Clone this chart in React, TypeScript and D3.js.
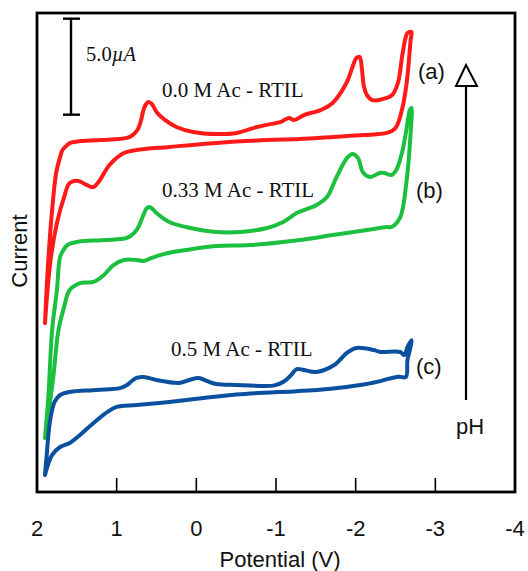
import React from "react";
import * as d3 from "d3";

// Potential (V) vs current (µA) — cyclic voltammograms
const curveA: [number, number][] = [
  [1.9, 8.75], [1.88, 10.47], [1.85, 12.55], [1.81, 14.64], [1.76, 16.56], [1.71, 17.4], [1.68, 17.76],
  [1.62, 18.02], [1.58, 18.13], [1.45, 18.23], [1.2, 18.28], [0.87, 18.39], [0.8, 18.54], [0.74, 18.8],
  [0.7, 19.22], [0.65, 20.0], [0.6, 20.26], [0.56, 20.16], [0.49, 19.69], [0.39, 19.32], [0.25, 18.96],
  [0.04, 18.7], [-0.25, 18.59], [-0.51, 18.65], [-0.76, 18.96], [-0.93, 19.11], [-1.06, 19.22],
  [-1.16, 19.43], [-1.23, 19.32], [-1.35, 19.58], [-1.56, 19.84], [-1.71, 20.21], [-1.89, 21.3],
  [-1.96, 22.08], [-2.01, 22.55], [-2.05, 22.6], [-2.08, 21.93], [-2.1, 21.15], [-2.14, 20.63],
  [-2.21, 20.36], [-2.39, 20.47], [-2.46, 20.63], [-2.53, 21.25], [-2.59, 22.81], [-2.65, 23.85],
  [-2.7, 23.91], [-2.69, 23.49], [-2.64, 21.25], [-2.58, 19.84], [-2.5, 18.91], [-2.39, 18.65],
  [-2.1, 18.54], [-1.71, 18.44], [-1.3, 18.33], [-0.89, 18.28], [-0.25, 18.13], [0.34, 17.92],
  [0.75, 17.76], [0.91, 17.6], [1.09, 16.98], [1.21, 16.2], [1.29, 15.83], [1.38, 15.94], [1.48, 16.15],
  [1.59, 16.04], [1.66, 15.31], [1.75, 13.96], [1.83, 12.03], [1.9, 8.75],
];

const curveB: [number, number][] = [
  [1.9, 2.76], [1.86, 4.74], [1.81, 8.39], [1.75, 10.47], [1.71, 12.19], [1.66, 12.6], [1.62, 12.81],
  [1.5, 12.97], [1.16, 13.07], [0.87, 13.18], [0.78, 13.44], [0.72, 13.8], [0.69, 14.11], [0.62, 14.74],
  [0.59, 14.79], [0.55, 14.69], [0.5, 14.48], [0.34, 14.01], [0.13, 13.75], [-0.25, 13.49],
  [-0.55, 13.49], [-0.89, 13.7], [-1.09, 14.01], [-1.26, 14.48], [-1.51, 14.9], [-1.64, 15.31],
  [-1.76, 16.35], [-1.89, 17.34], [-1.96, 17.55], [-2.03, 17.34], [-2.09, 16.61], [-2.18, 16.35],
  [-2.3, 16.56], [-2.36, 16.56], [-2.45, 16.46], [-2.51, 16.72], [-2.58, 17.6], [-2.63, 18.65],
  [-2.68, 19.84], [-2.7, 19.95], [-2.69, 18.65], [-2.63, 15.83], [-2.56, 14.27], [-2.45, 13.75],
  [-2.39, 13.75], [-2.14, 13.59], [-1.71, 13.33], [-1.3, 13.07], [-0.68, 12.81], [-0.25, 12.76],
  [0.13, 12.55], [0.41, 12.34], [0.56, 12.14], [0.66, 11.98], [0.75, 12.03], [0.91, 12.03],
  [1.04, 11.77], [1.16, 11.25], [1.29, 10.89], [1.46, 10.83], [1.59, 10.47], [1.66, 9.58],
  [1.73, 8.39], [1.8, 5.78], [1.9, 2.76],
];

const curveC: [number, number][] = [
  [1.9, 0.83], [1.88, 1.77], [1.84, 3.54], [1.78, 4.64], [1.71, 5.0], [1.59, 5.16], [1.25, 5.26],
  [0.96, 5.36], [0.87, 5.52], [0.81, 5.73], [0.75, 5.89], [0.66, 5.94], [0.5, 5.78], [0.21, 5.63],
  [0.09, 5.78], [-0.03, 5.89], [-0.13, 5.73], [-0.25, 5.57], [-0.5, 5.52], [-0.85, 5.47],
  [-0.98, 5.5], [-1.1, 5.7], [-1.19, 6.04], [-1.26, 6.35], [-1.35, 6.3], [-1.51, 6.2], [-1.73, 6.56],
  [-1.89, 7.19], [-2.01, 7.45], [-2.23, 7.34], [-2.31, 7.24], [-2.56, 7.24], [-2.61, 7.08],
  [-2.65, 7.5], [-2.7, 7.86], [-2.68, 7.34], [-2.65, 6.82], [-2.63, 5.94], [-2.54, 5.95],
  [-2.39, 5.82], [-2.31, 5.72], [-2.1, 5.55], [-1.69, 5.33], [-1.26, 5.2], [-0.85, 5.12], [-0.5, 5.02],
  [-0.09, 4.84], [0.34, 4.64], [0.75, 4.48], [1.0, 4.38], [1.12, 4.11], [1.29, 3.54], [1.46, 2.92],
  [1.59, 2.5], [1.71, 2.29], [1.81, 1.88], [1.9, 0.83],
];

const xTicks = [2, 1, 0, -1, -2, -3, -4];
const curveLabels = ["0.0 M Ac - RTIL", "0.33 M Ac - RTIL", "0.5 M Ac - RTIL"];
const curveTags = ["(a)", "(b)", "(c)"];
const scaleBarValue = 5.0;

const W = 528;
const H = 571;
const left = 37, right = 515, top = 13, bottom = 492;

export default function App() {
  const x = d3.scaleLinear().domain([2, -4]).range([left, right]);
  const y = d3.scaleLinear().domain([0, 25]).range([491, 11]);
  const line = d3
    .line<[number, number]>()
    .x((d) => x(d[0]))
    .y((d) => y(d[1]))
    .curve(d3.curveCatmullRom.alpha(0.5));

  const curves = [
    { data: curveA, color: "#ff1a1a" },
    { data: curveB, color: "#1dbf3f" },
    { data: curveC, color: "#0b4f9f" },
  ];

  const serif = "'Liberation Serif', 'Times New Roman', serif";
  const sans = "'Liberation Sans', Arial, sans-serif";

  const barTop = y(24.6);
  const barBot = y(24.6 - scaleBarValue);

  return (
    <svg
      width={W}
      height={H}
      style={{ position: "absolute", left: 0, top: 0, background: "#fff" }}
    >
      <rect x={0} y={0} width={W} height={H} fill="#fff" />
      {curves.map((c, i) => (
        <path
          key={i}
          d={line(c.data) || ""}
          fill="none"
          stroke={c.color}
          strokeWidth={4}
          strokeLinejoin="round"
          strokeLinecap="round"
        />
      ))}
      {/* frame */}
      <rect
        x={left}
        y={top}
        width={right - left}
        height={bottom - top}
        fill="none"
        stroke="#000"
        strokeWidth={2.8}
      />
      {/* ticks */}
      {xTicks.slice(1, -1).map((t) => (
        <line key={t} x1={x(t)} x2={x(t)} y1={bottom} y2={bottom - 14} stroke="#000" strokeWidth={1.6} />
      ))}
      {xTicks.map((t) => (
        <text
          key={"l" + t}
          x={x(t)}
          y={536}
          textAnchor="middle"
          fontFamily={sans}
          fontSize={22}
          fill="#111"
        >
          {String(t)}
        </text>
      ))}
      <text x={(left + right) / 2 + 4} y={567} textAnchor="middle" fontFamily={sans} fontSize={22} fill="#111">
        Potential (V)
      </text>
      <text
        transform={`translate(27,${251}) rotate(-90)`}
        textAnchor="middle"
        fontFamily={sans}
        fontSize={22}
        fill="#111"
      >
        Current
      </text>

      {/* scale bar */}
      <line x1={71} x2={71} y1={barTop} y2={barBot} stroke="#000" strokeWidth={2.4} />
      <line x1={63} x2={80} y1={barTop} y2={barTop} stroke="#000" strokeWidth={2.4} />
      <line x1={63} x2={80} y1={barBot} y2={barBot} stroke="#000" strokeWidth={2.4} />
      <text x={86} y={61} fontFamily={serif} fontSize={20.5} fill="#111">
        {scaleBarValue.toFixed(1)}
        <tspan fontStyle="italic">µA</tspan>
      </text>

      {/* curve labels */}
      <text x={162} y={97} fontFamily={serif} fontSize={21} fill="#111">{curveLabels[0]}</text>
      <text x={162} y={197} fontFamily={serif} fontSize={21} fill="#111">{curveLabels[1]}</text>
      <text x={171} y={356} fontFamily={serif} fontSize={21} fill="#111">{curveLabels[2]}</text>

      <text x={418} y={79} fontFamily={sans} fontSize={22} fill="#111">{curveTags[0]}</text>
      <text x={416} y={198} fontFamily={sans} fontSize={22} fill="#111">{curveTags[1]}</text>
      <text x={416} y={374} fontFamily={sans} fontSize={22} fill="#111">{curveTags[2]}</text>

      {/* pH arrow */}
      <line x1={466} x2={466} y1={86} y2={400} stroke="#000" strokeWidth={2.2} />
      <path d="M466,65 L456,86 L477,86 Z" fill="#fff" stroke="#000" strokeWidth={2} strokeLinejoin="miter" />
      <text x={456} y={434} fontFamily={sans} fontSize={22} fill="#111">pH</text>
    </svg>
  );
}
